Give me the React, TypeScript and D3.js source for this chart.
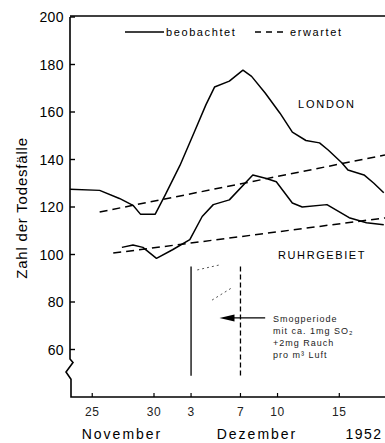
import React from "react";
import { scaleLinear, line } from "d3";

// day 0 = 25 November 1952
const londonObserved: [number, number][] = [
  [-1.8, 127.5], [0.6, 127], [2.2, 123.6], [3.3, 120.7], [3.9, 117], [5.1, 117],
  [5.9, 125], [7.1, 137.5], [8.3, 152], [9.2, 163], [9.9, 170.5], [11.1, 173],
  [12.2, 177.6], [12.9, 175], [14.0, 168], [15.2, 159.5], [16.2, 151.5], [17.3, 148],
  [18.4, 147], [19.1, 144], [20.2, 138.6], [20.7, 135.6], [22.0, 133.5], [22.8, 130],
  [23.6, 126],
];

const ruhrObserved: [number, number][] = [
  [2.4, 103], [3.3, 104], [4.1, 103], [5.2, 98.4], [6.5, 102], [7.9, 106.3],
  [8.9, 116], [9.8, 121], [11.1, 123], [13.0, 133.5], [14.1, 132], [14.9, 130.6],
  [16.2, 121.7], [17.0, 120], [19.0, 121], [20.8, 115.5], [22.2, 113.4], [23.6, 112.5],
];

const londonExpected: [number, number][] = [[0.6, 117.9], [23.7, 141.9]];
const ruhrExpected: [number, number][] = [[1.7, 100.6], [23.7, 115.4]];

const yTicks = [200, 180, 160, 140, 120, 100, 80, 60];
const xTicks = [0, 5, 8, 12, 15, 20];
const xTickLabels = ["25", "30", "3", "7", "10", "15"];

// smog period 3.–7. Dezember
const smogDays = [8, 12];
const smogRange = [49, 95];
const smogNote = ["Smogperiode", "mit ca. 1mg SO\u2082", "+2mg Rauch", "pro m\u00b3 Luft"];
const hatch: [number, number][][] = [
  [[8.5, 93.5], [10.3, 95.6]],
  [[9.7, 80.8], [11.4, 86.3]],
];

const font = "'Liberation Sans', Arial, sans-serif";

export default function App() {
  const width = 385;
  const height = 443;
  const x = scaleLinear().domain([-1.8, 23.7]).range([70, 385]);
  const y = scaleLinear().domain([40, 200]).range([397, 17]);
  const path = line<[number, number]>()
    .x((d) => x(d[0]))
    .y((d) => y(d[1]));

  const x0 = x(-1.8);
  const axisPath = `M${x0},${y(200)} L${x0},${y(56)} L${x0 + 3},${y(54.5)} L${x0 - 4},${y(50.5)} L${x0 + 1},${y(47.5)} L${x0 + 1},${y(40)} L${width},${y(40)}`;

  const arrowY = y(73.3);
  const arrowTip = x(10.3);

  return (
    <svg
      width={width}
      height={height}
      style={{ position: "absolute", left: 0, top: 0, background: "#fff" }}
      fontFamily={font}
    >
      {/* frame + axes */}
      <line x1={x0} x2={width} y1={y(200) - 1} y2={y(200) - 1} stroke="#000" strokeWidth={1.5} />
      <path d={axisPath} fill="none" stroke="#000" strokeWidth={1.6} />

      {yTicks.map((t) => (
        <g key={t}>
          <line x1={x0} x2={x0 + 5} y1={y(t)} y2={y(t)} stroke="#000" strokeWidth={1.4} />
          <text x={x0 - 6} y={y(t)} dy="0.36em" textAnchor="end" fontSize={14} letterSpacing={0.4}>
            {t}
          </text>
        </g>
      ))}

      {xTicks.map((t, i) => (
        <g key={t}>
          <line x1={x(t)} x2={x(t)} y1={y(40)} y2={y(40) - 4} stroke="#000" strokeWidth={1.2} />
          <text x={x(t)} y={416} textAnchor="middle" fontSize={12} fill="#222" letterSpacing={0.5}>
            {xTickLabels[i]}
          </text>
        </g>
      ))}

      <text x={122} y={439} textAnchor="middle" fontSize={14} letterSpacing={2}>November</text>
      <text x={257} y={439} textAnchor="middle" fontSize={14} letterSpacing={2}>Dezember</text>
      <text x={364} y={439} textAnchor="middle" fontSize={14} letterSpacing={1.5}>1952</text>

      <text
        transform={`translate(27,${208}) rotate(-90)`}
        textAnchor="middle"
        fontSize={15}
        letterSpacing={0.8}
      >
        Zahl der Todesfälle
      </text>

      {/* legend */}
      <line x1={125} x2={164} y1={32} y2={32} stroke="#000" strokeWidth={1.3} />
      <text x={166} y={36} fontSize={11} letterSpacing={1.6}>beobachtet</text>
      <line x1={255} x2={286} y1={32} y2={32} stroke="#000" strokeWidth={1.3} strokeDasharray="6 5" />
      <text x={290} y={36} fontSize={11} letterSpacing={1.6}>erwartet</text>

      {/* expected */}
      <path d={path(londonExpected) ?? ""} fill="none" stroke="#000" strokeWidth={1.5} strokeDasharray="8 5" />
      <path d={path(ruhrExpected) ?? ""} fill="none" stroke="#000" strokeWidth={1.5} strokeDasharray="8 5" />

      {/* observed */}
      <path d={path(londonObserved) ?? ""} fill="none" stroke="#000" strokeWidth={1.5} strokeLinejoin="round" />
      <path d={path(ruhrObserved) ?? ""} fill="none" stroke="#000" strokeWidth={1.5} strokeLinejoin="round" />

      <text x={298} y={108} fontSize={11} letterSpacing={1.8}>LONDON</text>
      <text x={278} y={259} fontSize={11} letterSpacing={1.6}>RUHRGEBIET</text>

      {/* smog period */}
      <line x1={x(smogDays[0])} x2={x(smogDays[0])} y1={y(smogRange[1])} y2={y(smogRange[0])} stroke="#000" strokeWidth={1.3} />
      <line x1={x(smogDays[1])} x2={x(smogDays[1])} y1={y(smogRange[1])} y2={y(smogRange[0])} stroke="#000" strokeWidth={1.3} strokeDasharray="5 3" />
      {hatch.map((h, i) => (
        <path key={i} d={path(h) ?? ""} stroke="#555" strokeWidth={1} strokeDasharray="2 3" fill="none" />
      ))}
      <line x1={arrowTip + 12} x2={x(14)} y1={arrowY} y2={arrowY} stroke="#000" strokeWidth={1.3} />
      <path
        d={`M${arrowTip},${arrowY} L${arrowTip + 15},${arrowY - 3.5} L${arrowTip + 15},${arrowY + 3.5} Z`}
        fill="#000"
      />
      {smogNote.map((s, i) => (
        <text key={s} x={273} y={322 + i * 12} fontSize={9} letterSpacing={1} fill="#222">
          {s}
        </text>
      ))}
    </svg>
  );
}
